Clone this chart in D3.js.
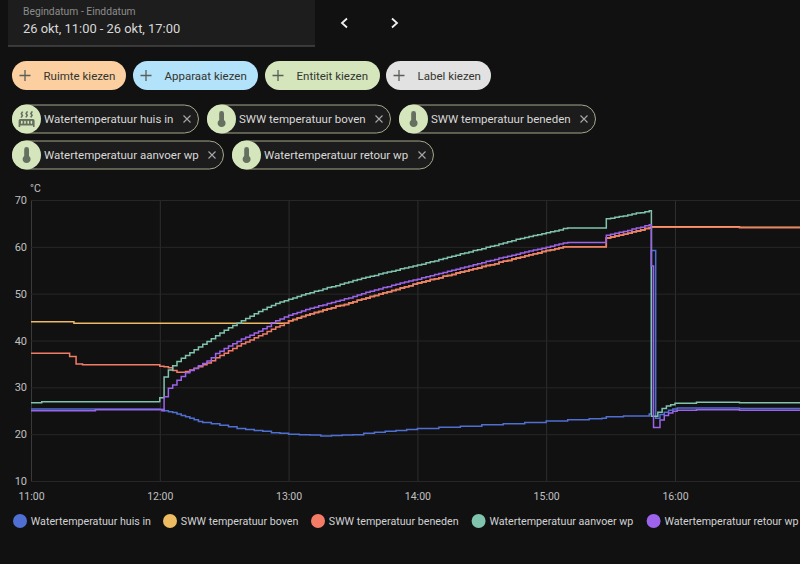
<!DOCTYPE html>
<html>
<head>
<meta charset="utf-8">
<script src="https://cdn.jsdelivr.net/npm/d3@7"></script>
<style>
  html, body { margin: 0; padding: 0; background: #111112; overflow: hidden; }
  svg { display: block; font-family: Roboto, sans-serif; }
</style>
</head>
<body>
<svg id="chart" width="800" height="564"></svg>
<script>
// minutes after 11:00, values in degrees
const stairMinutes = [64,66,68,70,72,74,76,78,80,82,84,86,88,90,92,94,96,98,100,102,104,106,108,110,112,114,116,118,120,122,124,126,128,130,132,134,136,138,140,142,144,146,148,150,152,154,156,158,160,162,164,166,168,170,172,174,176,178,180,182,184,186,188,190,192,194,196,198,200,202,204,206,208,210,212,214,216,218,220,222,224,226,228,230,232,234,236,238,240,242,244,246,248,250,252,254,256,258,260,262,264,266,268,270,272,274,276,278,280,282,284,286,288];

const aanvoerStairs = [33.7,34.6,35.5,36.2,36.8,37.4,38.0,38.6,39.2,39.8,40.4,41.0,41.6,42.2,42.7,43.2,43.7,44.2,44.7,45.2,45.7,46.2,46.6,47.1,47.5,47.9,48.2,48.5,48.8,49.1,49.4,49.7,50.0,50.2,50.5,50.7,51.0,51.3,51.5,51.7,52.0,52.3,52.5,52.8,53.0,53.3,53.5,53.7,53.9,54.2,54.4,54.6,54.8,55.0,55.3,55.5,55.7,55.9,56.1,56.3,56.6,56.8,57.0,57.3,57.5,57.8,58.0,58.2,58.5,58.7,58.9,59.2,59.4,59.6,59.9,60.1,60.3,60.6,60.8,61.1,61.3,61.6,61.8,62.0,62.2,62.4,62.6,62.8,63.0,63.2,63.4,63.6,63.9,64.0,64.0,64.0,64.0,64.0,64.0,64.0,64.0,64.0,66.0,66.1,66.3,66.5,66.6,66.8,67.0,67.2,67.3,67.5,67.7];
const retourStairs = [29.8,30.5,31.5,32.3,33.1,33.6,34.1,34.6,35.1,35.6,36.3,37.2,37.7,38.3,38.8,39.3,39.8,40.3,40.7,41.1,41.6,42.0,42.5,43.0,43.8,44.2,44.6,45.0,45.4,45.7,46.0,46.3,46.6,46.9,47.1,47.4,47.6,47.9,48.1,48.4,48.6,48.9,49.1,49.4,49.7,50.0,50.3,50.5,50.8,51.0,51.3,51.5,51.8,52.0,52.3,52.5,52.7,52.9,53.1,53.4,53.6,53.8,54.1,54.3,54.5,54.8,55.0,55.2,55.5,55.7,55.9,56.2,56.4,56.6,56.9,57.1,57.3,57.6,57.8,58.0,58.2,58.4,58.7,58.9,59.1,59.3,59.5,59.7,59.9,60.1,60.4,60.6,60.8,60.9,60.9,60.9,60.9,60.9,60.9,60.9,60.9,60.9,62.5,62.7,62.9,63.1,63.3,63.5,63.8,64.0,64.2,64.5,64.7];
const benedenStairs = [34.2,33.6,33.2,33.2,33.4,33.7,34.0,34.4,34.8,35.2,35.7,36.3,36.8,37.3,37.8,38.3,38.8,39.3,39.7,40.1,40.6,41.0,41.4,41.9,42.4,42.9,43.2,43.7,44.2,44.5,44.8,45.1,45.4,45.7,46.0,46.2,46.5,46.8,47.0,47.3,47.5,47.7,48.0,48.3,48.6,48.8,49.1,49.4,49.6,49.9,50.2,50.4,50.7,50.9,51.2,51.5,51.7,52.0,52.3,52.5,52.7,53.0,53.2,53.4,53.7,53.9,54.1,54.4,54.6,54.8,55.1,55.3,55.5,55.8,56.0,56.2,56.4,56.7,56.9,57.1,57.4,57.6,57.8,58.1,58.3,58.5,58.7,59.0,59.2,59.4,59.6,59.8,60.0,60.0,60.0,60.0,60.0,60.0,60.0,60.0,60.0,60.0,61.9,62.1,62.3,62.5,62.7,62.9,63.2,63.4,63.6,63.9,64.1];

const huisMinutes = [0,60,62,64,66,68,70,72,74,76,78,80,84,88,92,96,100,104,108,112,116,120,125,130,135,140,145,150,155,160,165,170,175,180,190,200,210,220,230,240,250,260,266,268,276,288,289,291,293,295,297,299,301,330,360];
const huisValues = [25.4,25.3,25.0,24.8,24.6,24.3,24.0,23.7,23.4,23.1,22.7,22.5,22.2,21.9,21.6,21.2,21.0,20.8,20.6,20.3,20.2,20.0,19.9,19.8,19.6,19.7,19.8,19.9,20.2,20.4,20.6,20.8,21.0,21.2,21.5,21.7,22.0,22.2,22.5,22.8,23.1,23.3,23.4,23.7,23.9,24.3,59.2,23.4,24.2,24.7,25.1,25.4,25.6,25.5,25.3];

const bovenEarlyMinutes = [0,19,20.5,60,116];
const bovenEarlyValues = [44.0,44.0,43.7,43.7,43.7];
const bovenLateMinutes = [289,330,360];
const bovenLateValues = [64.3,64.2,64.1];

const benedenEarlyMinutes = [0,18,18.5,21,24,60,62];
const benedenEarlyValues = [37.3,37.3,36.6,35.0,34.8,34.5,34.4];
const benedenLateMinutes = [289,330,360];
const benedenLateValues = [64.2,64.1,64.0];

const aanvoerEarlyMinutes = [0,5,60,60.6,62.7];
const aanvoerEarlyValues = [26.7,26.9,26.8,27.8,32.2];
const aanvoerLateMinutes = [289,292,294,296,298,300,310,330,360];
const aanvoerLateValues = [23.8,24.7,25.5,26.0,26.3,26.6,26.8,26.7,26.4];

const retourEarlyMinutes = [0,30,61.5,62.4];
const retourEarlyValues = [25.0,25.2,25.0,28.0];
const retourLateMinutes = [289,290.7,293,295,297,299,301,310,330,360];
const retourLateValues = [55.9,21.4,23.0,24.0,24.5,24.9,25.1,25.2,25.1,25.0];

function zip(minutes, values) {
  return minutes.map((m, i) => [m, values[i]]);
}

const stairsFrom118 = stairMinutes.indexOf(118);

const seriesNames = ["Watertemperatuur huis in", "SWW temperatuur boven", "SWW temperatuur beneden", "Watertemperatuur aanvoer wp", "Watertemperatuur retour wp"];
const seriesColors = ["#4f6fd2", "#ecbb62", "#f47c66", "#80c4ae", "#9d63ea"];
const seriesData = [
  zip(huisMinutes, huisValues),
  zip(bovenEarlyMinutes, bovenEarlyValues)
    .concat(zip(stairMinutes.slice(stairsFrom118), benedenStairs.slice(stairsFrom118)))
    .concat(zip(bovenLateMinutes, bovenLateValues)),
  zip(benedenEarlyMinutes, benedenEarlyValues)
    .concat(zip(stairMinutes, benedenStairs))
    .concat(zip(benedenLateMinutes, benedenLateValues)),
  zip(aanvoerEarlyMinutes, aanvoerEarlyValues)
    .concat(zip(stairMinutes, aanvoerStairs))
    .concat(zip(aanvoerLateMinutes, aanvoerLateValues)),
  zip(retourEarlyMinutes, retourEarlyValues)
    .concat(zip(stairMinutes, retourStairs))
    .concat(zip(retourLateMinutes, retourLateValues))
];

const yTicks = [10, 20, 30, 40, 50, 60, 70];
const xTickHours = [11, 12, 13, 14, 15, 16];

const buttonLabels = ["Ruimte kiezen", "Apparaat kiezen", "Entiteit kiezen", "Label kiezen"];
const chipLabels = ["Watertemperatuur huis in", "SWW temperatuur boven", "SWW temperatuur beneden", "Watertemperatuur aanvoer wp", "Watertemperatuur retour wp"];

// layout
const buttonX = [12, 133, 265, 386];
const buttonW = [114, 125, 115, 105];
const buttonFill = ["#fbcfa0", "#b3e2fb", "#d5e6bd", "#e2e2e2"];
const chipX = [12, 207, 399, 12, 232];
const chipY = [104.5, 104.5, 104.5, 140.5, 140.5];
const chipW = [187, 184, 197, 212, 202];
const legendDotX = [20, 170, 318, 478.6, 653.6];

const THERMO = "M15 13V5A3 3 0 0 0 9 5V13A5 5 0 1 0 15 13Z";
const RADIATOR = "M7.95,3L6.53,5.19L7.95,7.4H7.94L5.95,10.5L4.22,9.6L5.64,7.39L4.22,5.19L6.22,2.09L7.95,3M13.95,2.89L12.53,5.1L13.95,7.3L13.94,7.31L11.95,10.4L10.22,9.5L11.64,7.3L10.22,5.1L12.22,2L13.95,2.89M20,2.89L18.56,5.1L20,7.3V7.31L18,10.4L16.25,9.5L17.67,7.3L16.25,5.1L18.25,2L20,2.89M2,22V14A2,2 0 0,1 4,12H20A2,2 0 0,1 22,14V22H20V20H4V22H2M6,14A1,1 0 0,0 5,15V17A1,1 0 0,0 6,18A1,1 0 0,0 7,17V15A1,1 0 0,0 6,14M10,14A1,1 0 0,0 9,15V17A1,1 0 0,0 10,18A1,1 0 0,0 11,17V15A1,1 0 0,0 10,14M14,14A1,1 0 0,0 13,15V17A1,1 0 0,0 14,18A1,1 0 0,0 15,17V15A1,1 0 0,0 14,14M18,14A1,1 0 0,0 17,15V17A1,1 0 0,0 18,18A1,1 0 0,0 19,17V15A1,1 0 0,0 18,14Z";

const svg = d3.select("#chart");

// date picker
svg.append("rect").attr("x", 8).attr("y", 0).attr("width", 307).attr("height", 46).attr("fill", "#1d1d1d");
svg.append("rect").attr("x", 8).attr("y", 45.5).attr("width", 307).attr("height", 1).attr("fill", "#5c5c5c");
svg.append("text").attr("x", 23).attr("y", 15).attr("font-size", 10.3).attr("fill", "#8c8c8c").text("Begindatum - Einddatum");
svg.append("text").attr("x", 23).attr("y", 33).attr("font-size", 12.9).attr("fill", "#d8d8d8").text("26 okt, 11:00 - 26 okt, 17:00");
svg.append("path").attr("d", "M347 18.5L342 23L347 27.5").attr("fill", "none").attr("stroke", "#f0f0f0").attr("stroke-width", 1.8);
svg.append("path").attr("d", "M392 18.5L397 23L392 27.5").attr("fill", "none").attr("stroke", "#f0f0f0").attr("stroke-width", 1.8);

// pick buttons
const buttons = svg.selectAll("g.button").data(buttonLabels).enter().append("g")
  .classed("button", true)
  .attr("transform", (d, i) => `translate(${buttonX[i]},61)`);
buttons.append("rect")
  .attr("width", (d, i) => buttonW[i]).attr("height", 29).attr("rx", 14.5)
  .attr("fill", (d, i) => buttonFill[i]);
buttons.append("path").attr("d", "M7.5 14.5H18.5M13 9V20").attr("stroke", "#5a5f58").attr("stroke-width", 1.3);
buttons.append("text").attr("x", 31.5).attr("y", 18.5).attr("font-size", 11.5).attr("fill", "#33352f").text(d => d);

// selected entity chips
const chips = svg.selectAll("g.chip").data(chipLabels).enter().append("g")
  .classed("chip", true)
  .attr("transform", (d, i) => `translate(${chipX[i]},${chipY[i]})`);
chips.append("rect")
  .attr("x", 0.5).attr("y", 0.5)
  .attr("width", (d, i) => chipW[i] - 1).attr("height", 28).attr("rx", 14)
  .attr("fill", "#1c1c1c").attr("stroke", "#a5a78a").attr("stroke-width", 1);
chips.append("circle").attr("cx", 14.5).attr("cy", 14.5).attr("r", 14.5).attr("fill", "#d5e6bd");
chips.append("path")
  .attr("d", (d, i) => i === 0 ? RADIATOR : THERMO)
  .attr("transform", "translate(5,5) scale(0.8)")
  .attr("fill", "#667060");
chips.append("text").attr("x", 32).attr("y", 18.5).attr("font-size", 11.5).attr("fill", "#d8d8d8").text(d => d);
chips.append("path")
  .attr("d", (d, i) => {
    const cx = chipW[i] - 12
    return `M${cx - 3.5} 11L${cx + 3.5} 18M${cx + 3.5} 11L${cx - 3.5} 18`
  })
  .attr("stroke", "#a8a8a8").attr("stroke-width", 1.1);

// chart
const minuteToDate = m => new Date(2024, 9, 26, 11, m);
const xScale = d3.scaleTime()
  .domain([new Date(2024, 9, 26, 11, 0), new Date(2024, 9, 26, 17, 0)])
  .range([31, 803.8]);
const yScale = d3.scaleLinear().domain([10, 70]).range([481, 200]);

const tickDates = xTickHours.map(h => new Date(2024, 9, 26, h, 0));

const xAxis = svg.append("g")
  .attr("transform", "translate(0,481)")
  .call(d3.axisBottom(xScale).tickValues(tickDates).tickFormat(d3.timeFormat("%H:%M")).tickSize(-281).tickPadding(8));
const yAxis = svg.append("g")
  .attr("transform", "translate(31,0)")
  .call(d3.axisLeft(yScale).tickValues(yTicks).tickSize(0).tickPadding(4));

yAxis.selectAll(".tick").append("line").attr("x2", 769).attr("stroke", "#272727");
xAxis.selectAll(".tick line").attr("stroke", "#2e2e2e");
xAxis.select(".domain").attr("stroke", "#3a3a3a");
yAxis.select(".domain").attr("stroke", "#3a3a3a");
xAxis.selectAll("text").attr("fill", "#c0c0c0").attr("font-size", 10.5).attr("font-family", "Roboto, sans-serif").attr("dy", "1em");
yAxis.selectAll("text").attr("fill", "#c0c0c0").attr("font-size", 11).attr("font-family", "Roboto, sans-serif");
svg.append("text").attr("x", 30).attr("y", 192).attr("font-size", 10.5).attr("fill", "#c0c0c0").text("°C");

const line = d3.line()
  .x(d => xScale(minuteToDate(d[0])))
  .y(d => yScale(d[1]))
  .curve(d3.curveStepAfter);

svg.selectAll("path.series").data(seriesData).enter().append("path")
  .classed("series", true)
  .attr("d", d => line(d))
  .attr("fill", "none")
  .attr("stroke", (d, i) => seriesColors[i])
  .attr("stroke-width", 1.5);

// legend
const legend = svg.selectAll("g.legend").data(seriesNames).enter().append("g")
  .classed("legend", true)
  .attr("transform", (d, i) => `translate(${legendDotX[i]},521)`);
legend.append("circle").attr("r", 7).attr("fill", (d, i) => seriesColors[i]);
legend.append("text").attr("x", 10.8).attr("y", 3.8).attr("font-size", 10.7).attr("fill", "#d2d2d2").text(d => d);
</script>
</body>
</html>
